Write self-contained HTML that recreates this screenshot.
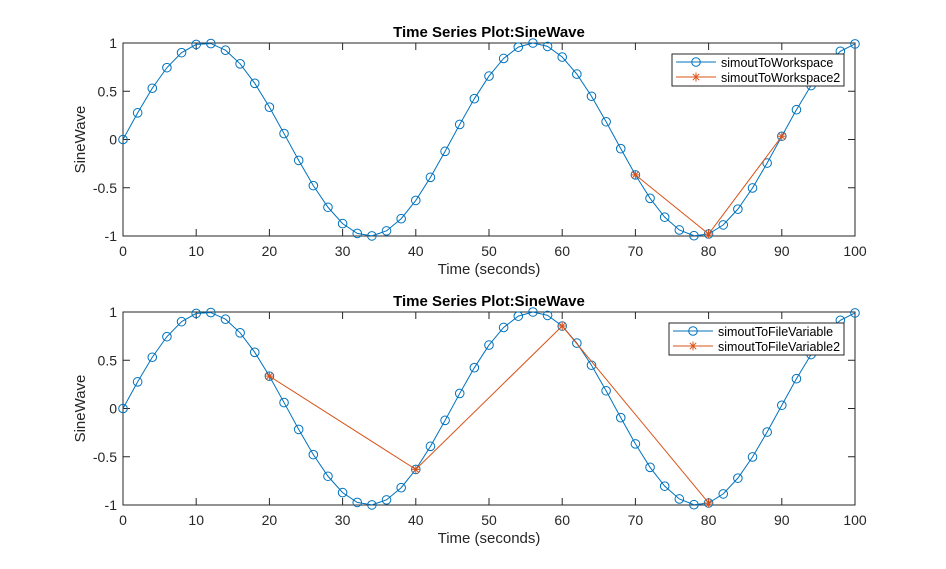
<!DOCTYPE html>
<html><head><meta charset="utf-8"><style>
body{margin:0;background:#fff}
svg{display:block;font-family:"Liberation Sans",sans-serif}
</style></head><body>
<svg id="s" width="946" height="569" xmlns="http://www.w3.org/2000/svg"></svg>
<script>
const s=document.getElementById('s');let h='<rect width="946" height="569" fill="#fff"/>';
const X=t=>123+t*7.32;
function ax(y0,leg1,leg2,orT,lx,lw){
  const Y=v=>y0-v*96.5, top=Y(1), bot=Y(-1);
  h+=`<rect x="123" y="${top}" width="732" height="193" fill="#fff" stroke="#262626" stroke-width="1"/>`;
  for(let t=0;t<=100;t+=10){const x=X(t);h+=`<line x1="${x}" y1="${bot}" x2="${x}" y2="${bot-7}" stroke="#262626"/><line x1="${x}" y1="${top}" x2="${x}" y2="${top+7}" stroke="#262626"/><text x="${x}" y="${bot+20}" font-size="14" text-anchor="middle" fill="#262626">${t}</text>`;}
  [1,0.5,0,-0.5,-1].forEach(v=>{const y=Y(v);h+=`<line x1="123" y1="${y}" x2="130" y2="${y}" stroke="#262626"/><line x1="855" y1="${y}" x2="848" y2="${y}" stroke="#262626"/><text x="117" y="${y+5}" font-size="14" text-anchor="end" fill="#262626">${v}</text>`;});
  h+=`<text x="489" y="${top-6}" font-size="15" font-weight="bold" text-anchor="middle" fill="#000">Time Series Plot:SineWave</text>`;
  h+=`<text x="489" y="${bot+38}" font-size="15" text-anchor="middle" fill="#262626">Time (seconds)</text>`;
  h+=`<text transform="translate(85,${y0}) rotate(-90)" font-size="15" text-anchor="middle" fill="#262626">SineWave</text>`;
  let p=[],c='';for(let t=0;t<=100;t+=2){const x=X(t),y=Y(Math.sin(0.14*t));p.push(x+','+y);c+=`<circle cx="${x}" cy="${y}" r="4.3" fill="none" stroke="#0072BD"/>`;}
  h+=`<polyline points="${p.join(' ')}" fill="none" stroke="#0072BD" stroke-width="1"/>`+c;
  let q=[],a='';orT.forEach(t=>{const x=X(t),y=Y(Math.sin(0.14*t));q.push(x+','+y);a+=star(x,y);});
  h+=`<polyline points="${q.join(' ')}" fill="none" stroke="#D95319" stroke-width="1"/>`+a;
  const ly=top+11;
  h+=`<rect x="${lx}" y="${ly}" width="${lw}" height="32" fill="#fff" stroke="#262626"/>`;
  h+=`<line x1="${lx+4}" y1="${ly+8}" x2="${lx+44}" y2="${ly+8}" stroke="#0072BD"/><circle cx="${lx+24}" cy="${ly+8}" r="4.3" fill="none" stroke="#0072BD"/>`;
  h+=`<line x1="${lx+4}" y1="${ly+23}" x2="${lx+44}" y2="${ly+23}" stroke="#D95319"/>`+star(lx+24,ly+23);
  h+=`<text x="${lx+49}" y="${ly+13}" font-size="12.5" fill="#000">${leg1}</text><text x="${lx+49}" y="${ly+28}" font-size="12.5" fill="#000">${leg2}</text>`;
}
function star(x,y){const r=4.5,d=3.2;return `<path d="M${x-r},${y}H${x+r}M${x},${y-r}V${y+r}M${x-d},${y-d}L${x+d},${y+d}M${x-d},${y+d}L${x+d},${y-d}" stroke="#D95319" stroke-width="1"/>`;}
ax(139.5,'simoutToWorkspace','simoutToWorkspace2',[70,80,90],672,172);
ax(408.5,'simoutToFileVariable','simoutToFileVariable2',[20,40,60,80],669,175);
s.innerHTML=h;
</script>
</body></html>
